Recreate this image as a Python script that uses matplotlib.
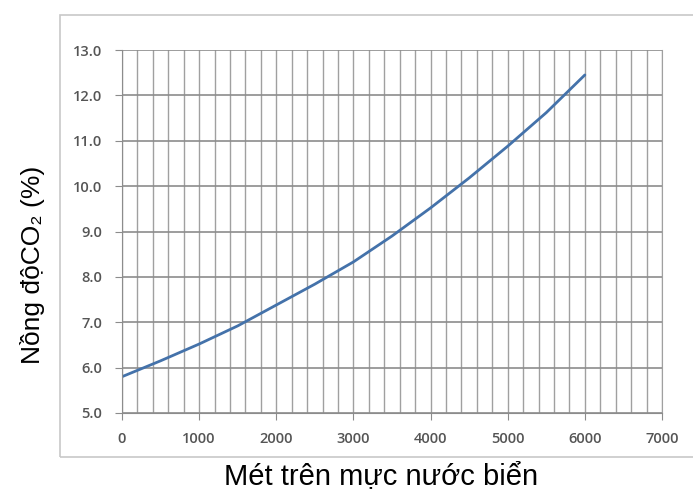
import matplotlib.pyplot as plt
from matplotlib.patches import Rectangle
from matplotlib.ticker import MultipleLocator

plt.rcParams['font.family'] = ['Liberation Sans', 'DejaVu Sans']

# độ cao (m) và nồng độ CO2 (%)
altitude = [0, 500, 1000, 1500, 2000, 2500, 3000, 3500, 4000, 4500, 5000, 5500, 6000]
co2 = [5.8, 6.15, 6.52, 6.92, 7.38, 7.84, 8.33, 8.9, 9.52, 10.18, 10.88, 11.62, 12.45]

W, H = 693, 491
fig = plt.figure(figsize=(W / 100, H / 100), dpi=100)

# khung ngoài của biểu đồ
fig.patches.append(Rectangle((60 / W, 1 - 457 / H), 1.0, (457 - 15) / H,
                             transform=fig.transFigure, fill=False,
                             edgecolor='#c8c8c8', lw=1.2))

ax = fig.add_axes([122 / W, 1 - 413 / H, 540 / W, 363 / H])
ax.plot(altitude, co2, color='#4472aa', lw=2.0, solid_capstyle='round')

ax.set_xlim(0, 7000)
ax.set_ylim(5, 13)
ax.xaxis.set_major_locator(MultipleLocator(1000))
ax.xaxis.set_minor_locator(MultipleLocator(200))
ax.set_yticks(range(5, 14))
ax.set_yticklabels(['%.1f' % v for v in range(5, 14)])

ax.grid(which='minor', axis='x', color='#a0a0a0', lw=1.0)
ax.grid(which='major', axis='x', color='#a0a0a0', lw=1.0)
ax.grid(which='major', axis='y', color='#8c8c8c', lw=1.2)
ax.set_axisbelow(True)

ax.spines['top'].set_visible(False)
ax.spines['left'].set_color('#8c8c8c')
ax.spines['bottom'].set_color('#8c8c8c')
ax.spines['right'].set_color('#a0a0a0')

ax.tick_params(axis='both', which='major', length=5, color='#8c8c8c',
               labelsize=10.5, labelcolor='#555555')
for lab in ax.get_xticklabels() + ax.get_yticklabels():
    lab.set_family(['Open Sans', 'DejaVu Sans'])
    lab.set_fontweight('semibold')
ax.tick_params(axis='x', which='minor', length=0)
ax.tick_params(axis='x', pad=9)
ax.tick_params(axis='y', pad=9)

# nhãn trục đặt theo vị trí trong ảnh gốc
fig.text(33 / W, 1 - 265 / H, 'Nồng độCO₂ (%)', fontsize=19,
         rotation=90, ha='center', va='center')
fig.text(381 / W, 1 - 476 / H, 'Mét trên mực nước biển', fontsize=21,
         ha='center', va='center')

fig.savefig('out.png', dpi=100)
